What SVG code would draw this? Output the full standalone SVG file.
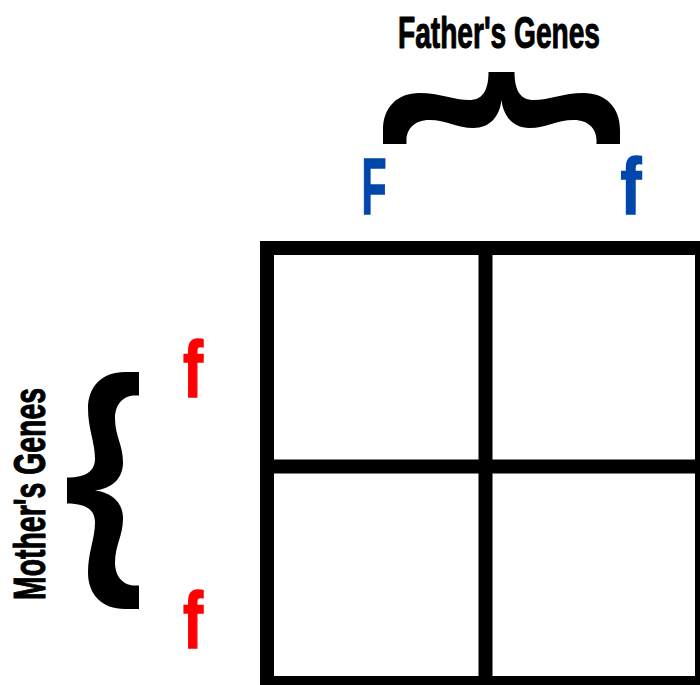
<svg xmlns="http://www.w3.org/2000/svg" width="700" height="685" viewBox="0 0 700 685">
  <style>
    .lbl { font-family: "Liberation Sans Narrow", "Liberation Sans", Arial, sans-serif; font-weight: bold; fill: #000; stroke: #000; stroke-width: 1.1; stroke-linejoin: round; }
    .gene { font-family: "Liberation Sans Narrow", "Liberation Sans", Arial, sans-serif; font-weight: bold; stroke-width: 1.6; stroke-linejoin: miter; }
    .dad { fill: #0047ab; stroke: #0047ab; }
    .mom { fill: #ff0000; stroke: #ff0000; }
    .grid { fill: none; stroke: #000; stroke-width: 14; }
  </style>
  <defs>
    <path id="brace" fill="#000" d="M -118.5,72 L -118.5,58 C -118.5,35 -104,21 -82,21 C -62,21 -48,28 -32,28 C -20,28 -13,20 -13,0 L 13,0 C 13,20 20,28 32,28 C 48,28 62,21 82,21 C 104,21 118.5,35 118.5,58 L 118.5,72 L 95,72 L 95,68 C 95,58 88,48 72,48 C 55,48 45,56 28,56 C 12,56 2,45 0,28 C -2,45 -12,56 -28,56 C -45,56 -55,48 -72,48 C -88,48 -95,58 -95,68 L -95,72 Z"/>
  </defs>
  <rect width="700" height="685" fill="#fff"/>

  <g id="father-label">
    <text class="lbl" x="398" y="48" font-size="45" textLength="202" lengthAdjust="spacingAndGlyphs">Father's Genes</text>
    <use href="#brace" transform="translate(501.5,72)"/>
  </g>

  <g id="mother-label">
    <text class="lbl" transform="translate(45,600) rotate(-90)" x="0" y="0" font-size="45" textLength="212" lengthAdjust="spacingAndGlyphs">Mother's Genes</text>
    <use href="#brace" transform="matrix(0,1,1,0,67,490.5)"/>
  </g>

  <g id="father-alleles">
    <text class="gene dad" x="361.5" y="214" font-size="80" textLength="25" lengthAdjust="spacingAndGlyphs">F</text>
    <text class="gene dad" x="620.5" y="214" font-size="80" textLength="21" lengthAdjust="spacingAndGlyphs">f</text>
  </g>

  <g id="mother-alleles">
    <text class="gene mom" x="183" y="397" font-size="80" textLength="20" lengthAdjust="spacingAndGlyphs">f</text>
    <text class="gene mom" x="183" y="648" font-size="80" textLength="20" lengthAdjust="spacingAndGlyphs">f</text>
  </g>

  <g id="punnett-grid">
    <rect class="grid" x="267" y="248" width="435" height="435"/>
    <line class="grid" x1="485.5" y1="248" x2="485.5" y2="690"/>
    <line class="grid" x1="267" y1="466.5" x2="709" y2="466.5"/>
  </g>
</svg>
